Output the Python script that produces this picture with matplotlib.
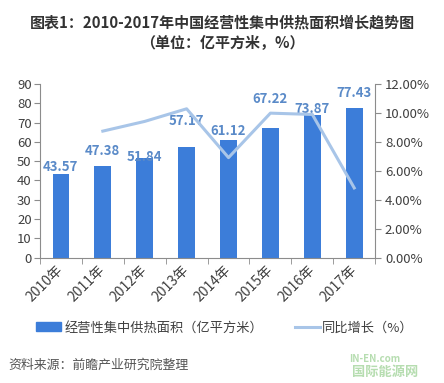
import numpy as np
import matplotlib.pyplot as plt
from matplotlib.lines import Line2D
from matplotlib.patches import Patch

plt.rcParams['font.family'] = ['Noto Sans CJK SC', 'DejaVu Sans']

# ===========================
# DATA
# ===========================
years = ['2010年', '2011年', '2012年', '2013年', '2014年', '2015年', '2016年', '2017年']
area = [43.57, 47.38, 51.84, 57.17, 61.12, 67.22, 73.87, 77.43]       # 亿平方米
growth = [np.nan, 8.74, 9.41, 10.28, 6.91, 9.98, 9.89, 4.82]         # %

# label nudges (pixels above bar top, label centre) - hand placed like the original
LABEL_OFFSETS = [7, 15, 1, 26, 9, 29, 6, 15]

BAR_COLOR = '#3C7DD9'
LINE_COLOR = '#A8C5E8'
LABEL_COLOR = '#5A8AC8'
AXIS_COLOR = '#8C8C8C'
TEXT_COLOR = '#404040'

# ===========================
# PLOT
# ===========================
fig = plt.figure(figsize=(4.44, 3.83), dpi=100)
ax = fig.add_axes([0.090, 0.327, 0.755, 0.454])
x = np.arange(len(years))

ax.bar(x, area, width=0.4, color=BAR_COLOR, zorder=2)
for xi, v, off in zip(x, area, LABEL_OFFSETS):
    ax.annotate(f'{v:.2f}', (xi, v), xytext=(0, off), textcoords='offset pixels',
                ha='center', va='center', fontsize=9.5, fontweight='bold',
                color=LABEL_COLOR, zorder=4)

ax.set_xlim(-0.5, len(years) - 0.5)
ax.set_ylim(0, 90)
ax.set_yticks(np.arange(0, 91, 10))
ax.set_xticks(x)
ax.set_xticklabels(years, rotation=45, ha='right', va='center',
                   rotation_mode='anchor', fontsize=10, color=TEXT_COLOR)
ax.tick_params(axis='x', length=0, pad=7)
ax.set_xticks(np.arange(-0.5, len(years)), minor=True)
ax.tick_params(axis='x', which='minor', length=4, color=AXIS_COLOR, direction='out')
ax.tick_params(axis='y', length=4, color=AXIS_COLOR, labelsize=9.5,
               labelcolor=TEXT_COLOR, pad=2)
for s in ['top', 'right']:
    ax.spines[s].set_visible(False)
for s in ['left', 'bottom']:
    ax.spines[s].set_color(AXIS_COLOR)

ax2 = ax.twinx()
ax2.plot(x, growth, color=LINE_COLOR, linewidth=2.2, zorder=3)
ax2.set_ylim(0, 12)
ax2.set_yticks(np.arange(0, 12.1, 2))
ax2.set_yticklabels([f'{v:.2f}%' for v in np.arange(0, 12.1, 2)])
ax2.tick_params(axis='y', length=4, color=AXIS_COLOR, labelsize=9.5,
                labelcolor=TEXT_COLOR, pad=3)
for s in ['top', 'left', 'bottom']:
    ax2.spines[s].set_visible(False)
ax2.spines['right'].set_color(AXIS_COLOR)

# title
fig.text(0.5, 0.940, '图表1：2010-2017年中国经营性集中供热面积增长趋势图',
         ha='center', va='center', fontsize=10.8, fontweight='bold', color='#333333')
fig.text(0.5, 0.887, '（单位：亿平方米，%）',
         ha='center', va='center', fontsize=10.8, fontweight='bold', color='#333333')

# legend
handles = [Patch(color=BAR_COLOR), Line2D([], [], color=LINE_COLOR, linewidth=2.2)]
labels = ['经营性集中供热面积（亿平方米）', '同比增长（%）']
fig.legend(handles, labels, loc='center', bbox_to_anchor=(0.507, 0.144), ncol=2,
           frameon=False, fontsize=9.5, handlelength=1.9, handleheight=0.7,
           handletextpad=0.2, columnspacing=2.4, labelcolor=TEXT_COLOR)

# source
fig.text(0.018, 0.047, '资料来源：前瞻产业研究院整理', ha='left', va='center',
         fontsize=9.3, style='italic', color='#555555')

# logo text
fig.text(0.843, 0.062, 'IN-EN.com', ha='center', va='center', fontsize=7,
         fontweight='bold', style='italic', color='#B6DDB0')
fig.text(0.868, 0.030, '国际能源网', ha='center', va='center', fontsize=9.5,
         fontweight='bold', color='#B6DDB0')

fig.savefig('out.png', dpi=100)
